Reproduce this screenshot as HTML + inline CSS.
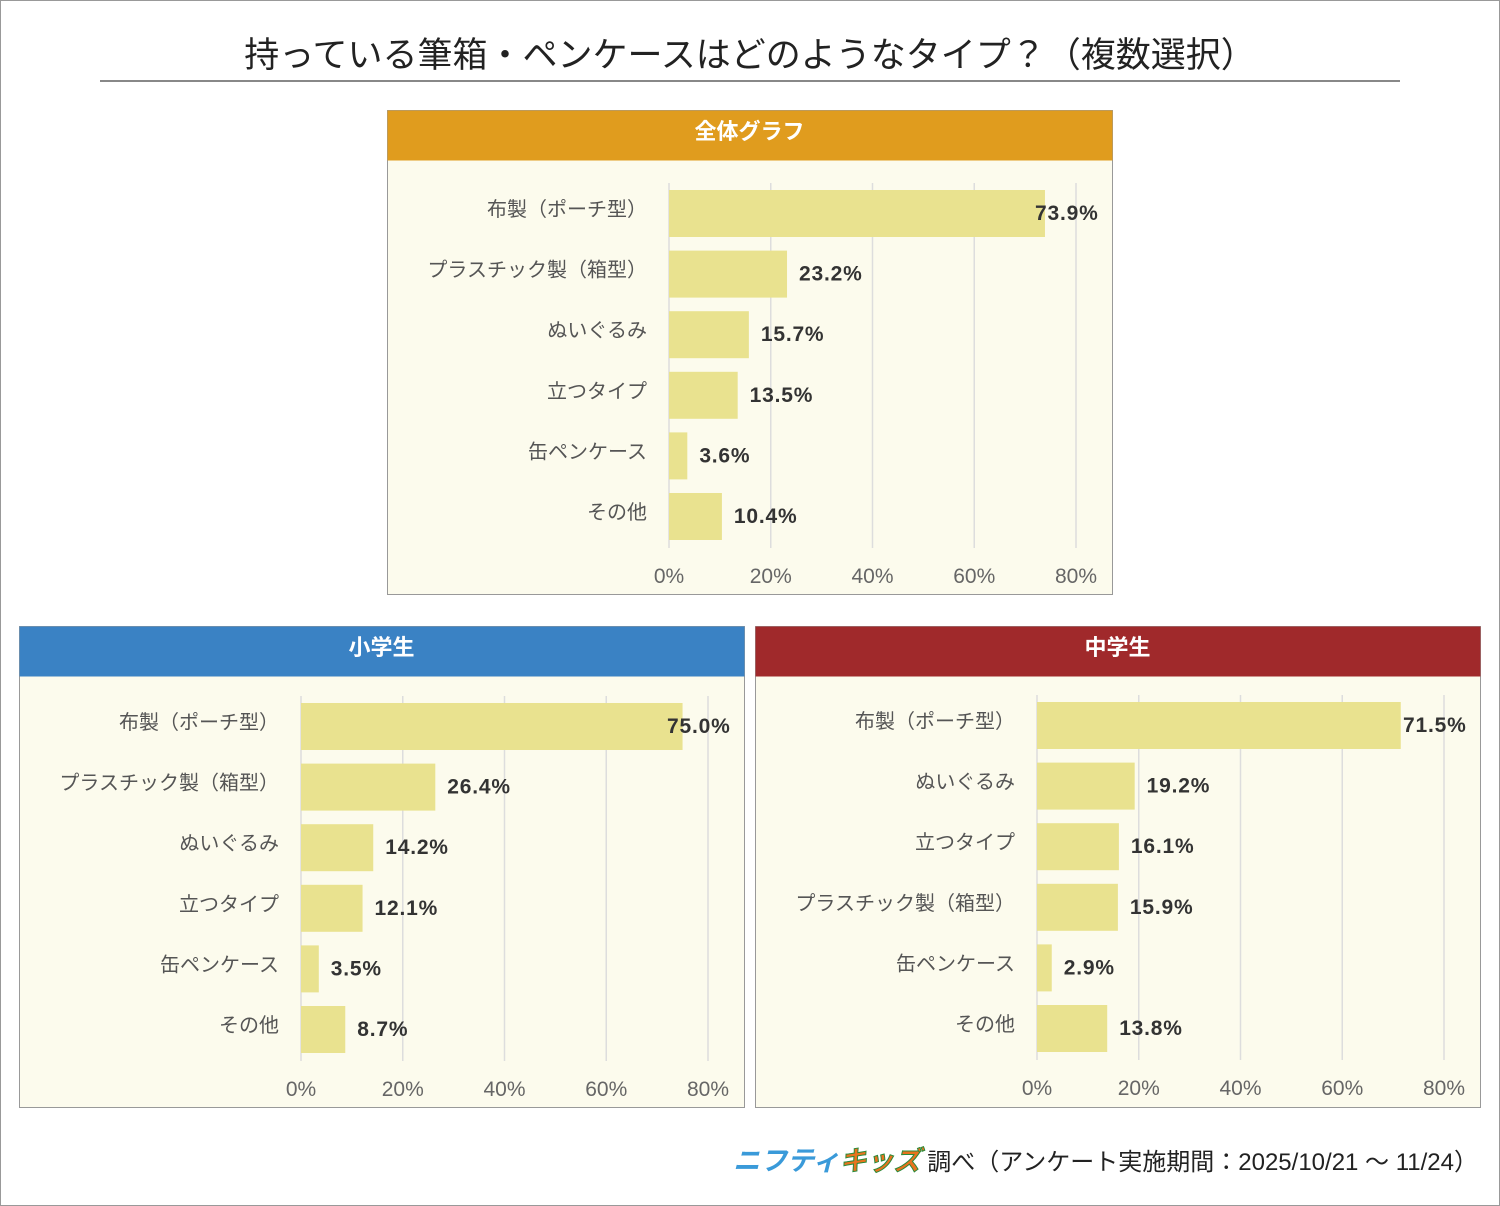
<!DOCTYPE html>
<html><head><meta charset="utf-8"><style>
body{margin:0;background:#fff;}
#wrap{position:relative;width:1500px;height:1206px;font-family:"Liberation Sans","Noto Sans CJK JP",sans-serif;}
#frame{position:absolute;left:0;top:0;width:1498px;height:1204px;border:1px solid #999;}
#title{position:absolute;left:0;top:27px;width:1500px;text-align:center;font-size:35px;color:#222;}
#rule{position:absolute;left:100px;top:80px;width:1300px;height:2px;background:#888;}
#footer{position:absolute;right:22px;top:1139px;font-size:24px;color:#222;}
.logo1{color:#3a9ad9;font-weight:bold;font-style:italic;font-size:27px;}
.logo2{color:#e8731e;font-weight:bold;font-style:italic;font-size:27px;-webkit-text-stroke:1px #2a8a3a;}
</style></head><body>
<div id="wrap">
<div id="frame"></div>
<div id="title">持っている筆箱・ペンケースはどのようなタイプ？（複数選択）</div>
<div id="rule"></div>
<svg id="svg" width="1500" height="1206" style="position:absolute;left:0;top:0"></svg>
<div id="footer"><span class="logo1">ニフティ</span><span class="logo2">キッズ</span> 調べ（アンケート実施期間：2025/10/21 ～ 11/24）</div>
</div>
<script>
const allCats=["布製（ポーチ型）","プラスチック製（箱型）","ぬいぐるみ","立つタイプ","缶ペンケース","その他"];
const allVals=[73.9,23.2,15.7,13.5,3.6,10.4];
const elemCats=["布製（ポーチ型）","プラスチック製（箱型）","ぬいぐるみ","立つタイプ","缶ペンケース","その他"];
const elemVals=[75.0,26.4,14.2,12.1,3.5,8.7];
const midCats=["布製（ポーチ型）","ぬいぐるみ","立つタイプ","プラスチック製（箱型）","缶ペンケース","その他"];
const midVals=[71.5,19.2,16.1,15.9,2.9,13.8];
const ticks=[0,20,40,60,80];
const tickLabels=["0%","20%","40%","60%","80%"];
const NS="http://www.w3.org/2000/svg";
const svg=document.getElementById('svg');
function mk(tag,attrs,parent){const e=document.createElementNS(NS,tag);for(const k in attrs)e.setAttribute(k,attrs[k]);(parent||svg).appendChild(e);return e;}
function panel(key,title,color,left,top,H,off,cats,vals){
  const W=725,HH=50;
  const g=mk('g',{});
  
  
  const bg=mk('rect',{x:left+0.5,y:top+0.5,width:W,height:H,fill:'#fcfbed',stroke:'#999'},g);
  
  
  const hd=mk('rect',{x:left+0.5,y:top+0.5,width:W,height:HH,fill:color},g);
  
  
  const ht=mk('text',{x:left+W/2,y:top+29,'text-anchor':'middle','font-size':22,'font-weight':'bold',fill:'#fff'},g);
  ht.textContent=title;
  
  
  const x0=left+282, scale=407/80;
  const xs=v=>x0+v*scale;
  const barTop=top+off, pitch=60.6, bh=47;
  ticks.forEach((t,i)=>{
    const ln=mk('line',{x1:xs(t),x2:xs(t),y1:barTop-7,y2:barTop+358,stroke:'#ddd','stroke-width':1.5},g);
    
    
    const tl=mk('text',{x:xs(t),y:barTop+393,'text-anchor':'middle','font-size':21,fill:'#666'},g);
    tl.textContent=tickLabels[i];
    
    
  });
  cats.forEach((c,i)=>{
    const y=barTop+i*pitch;
    const r=mk('rect',{x:x0,y:y,width:xs(vals[i])-x0,height:bh,fill:'#e9e28f'},g);
    
    
    const cl=mk('text',{x:x0-22,y:y+26,'text-anchor':'end','font-size':20,fill:'#555'},g);
    cl.textContent=c;
    
    
    const lx=Math.min(xs(vals[i])+12,left+W-77);
    const vl=mk('text',{x:lx,y:y+30,'font-size':21,'font-weight':'bold',fill:'#333','letter-spacing':'0.8'},g);
    vl.textContent=vals[i].toFixed(1)+'%';
    
    
  });
}
panel('overall','全体グラフ','#e09c1e',387,110,484,80,allCats,allVals);
panel('elementary','小学生','#3a82c4',19,626,481,77,elemCats,elemVals);
panel('junior-high','中学生','#a0292b',755,626,481,76,midCats,midVals);
</script>
</body></html>
